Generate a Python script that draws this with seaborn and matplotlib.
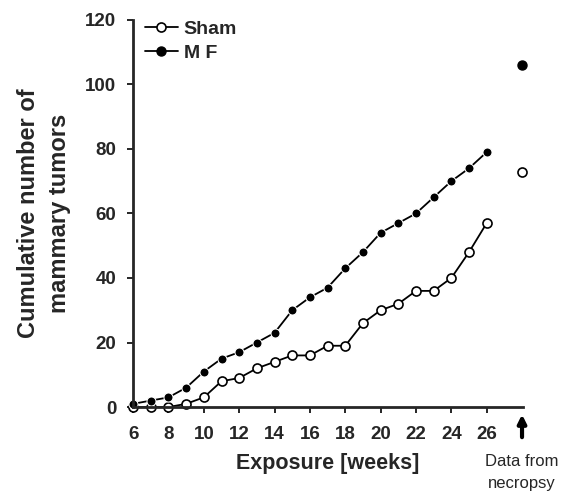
import matplotlib
matplotlib.use("Agg")
import matplotlib.pyplot as plt
import seaborn as sns
import pandas as pd
from matplotlib.lines import Line2D

weeks = list(range(6, 27))
sham = [0, 0, 0, 1, 3, 8, 9, 12, 14, 16, 16, 19, 19, 26, 30, 32, 36, 36, 40, 48, 57]
mf = [1, 2, 3, 6, 11, 15, 17, 20, 23, 30, 34, 37, 43, 48, 54, 57, 60, 65, 70, 74, 79]
necropsy_x = 28
necropsy_sham = 73
necropsy_mf = 106
series_names = ["Sham", "MF"]
legend_labels = ["Sham", "M F"]
x_ticks = list(range(6, 27, 2))
y_ticks = [0, 20, 40, 60, 80, 100, 120]

df = pd.DataFrame({
    "week": weeks * 2,
    "count": sham + mf,
    "group": [series_names[0]] * len(weeks) + [series_names[1]] * len(weeks),
})

sns.set_style("ticks")
plt.rcParams["font.family"] = ["Liberation Sans", "DejaVu Sans"]
plt.rcParams["font.weight"] = "bold"

fig = plt.figure(figsize=(5.69, 4.97), dpi=100)
ax = fig.add_axes([0.234, 0.181, 0.685, 0.779])

sns.lineplot(data=df, x="week", y="count", hue="group", style="group",
             palette={"Sham": "black", "MF": "black"},
             markers={"Sham": "o", "MF": "o"}, dashes=False,
             linewidth=1.3, markersize=6.5, ax=ax, legend=False)

lines = ax.get_lines()
lines[0].set_markerfacecolor("white")
lines[0].set_markeredgecolor("black")
lines[0].set_markeredgewidth(1.2)
lines[1].set_markerfacecolor("black")
for ln in lines:
    ln.set_clip_on(False)

ax.plot([necropsy_x], [necropsy_sham], "o", mfc="white", mec="black", mew=1.2, ms=6.5, clip_on=False)
ax.plot([necropsy_x], [necropsy_mf], "o", mfc="black", mec="black", ms=6.5, clip_on=False)

ax.set_xlim(6, 28.05)
ax.set_ylim(0, 120)
ax.set_xticks(x_ticks)
ax.set_yticks(y_ticks)
ax.tick_params(axis="both", labelsize=13.5, width=1.4, length=4, direction="out")
ax.tick_params(axis="x", pad=10)
ax.tick_params(axis="y", pad=8)
for lab in ax.get_xticklabels() + ax.get_yticklabels():
    lab.set_fontweight("bold")
sns.despine(ax=ax)
ax.spines["left"].set_linewidth(2.0)
ax.spines["bottom"].set_linewidth(2.0)

ax.set_xlabel("Exposure [weeks]", fontsize=15.5, fontweight="bold", labelpad=7)
ax.set_ylabel("Cumulative number of\nmammary tumors", fontsize=17, fontweight="bold",
              labelpad=10, linespacing=1.45)

ax.annotate("", xy=(necropsy_x, -0.012), xytext=(necropsy_x, -0.085),
            xycoords=("data", "axes fraction"), textcoords=("data", "axes fraction"),
            arrowprops=dict(arrowstyle="-|>", color="black", lw=3, mutation_scale=12),
            annotation_clip=False)
ax.text(necropsy_x, -0.122, "Data from\nnecropsy", transform=ax.get_xaxis_transform(),
        ha="center", va="top", fontsize=12, fontweight="normal", linespacing=1.55)

handles = [
    Line2D([], [], color="black", lw=1.3, marker="o", mfc="white", mec="black", mew=1.2, ms=6.5),
    Line2D([], [], color="black", lw=1.3, marker="o", mfc="black", mec="black", ms=6.5),
]
leg = ax.legend(handles, legend_labels, loc="upper left", bbox_to_anchor=(0.0, 1.03),
                frameon=False, fontsize=14, handlelength=1.7, handletextpad=0.3,
                labelspacing=0.35, borderaxespad=0.2)
for t in leg.get_texts():
    t.set_fontweight("bold")

fig.savefig("out.png", dpi=100)
